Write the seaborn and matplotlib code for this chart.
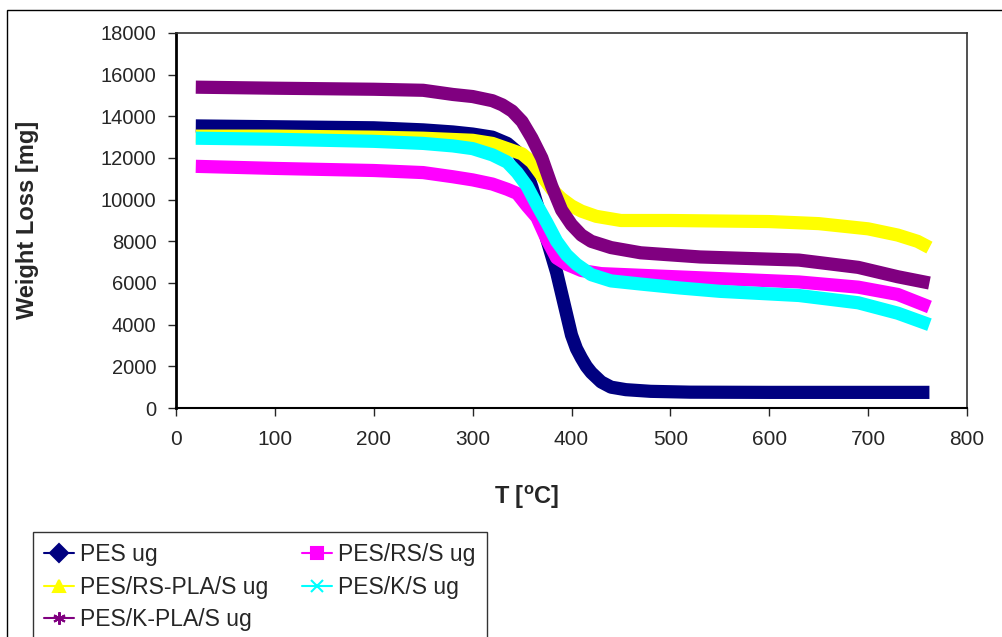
import numpy as np
import pandas as pd
import matplotlib
matplotlib.use('Agg')
import matplotlib.pyplot as plt
from matplotlib.lines import Line2D
from matplotlib.patches import Rectangle
import seaborn as sns

# 数据
t_pes = [20, 100, 200, 250, 280, 300, 320, 335, 345, 352, 360, 365, 370, 375, 380, 385, 390, 395, 400,
         405, 410, 415, 420, 430, 440, 455, 480, 520, 600, 700, 762]
w_pes = [13540, 13500, 13450, 13350, 13250, 13150, 13000, 12700, 12300, 11700, 10600, 9800, 9000, 8100, 7300,
         6500, 5500, 4500, 3500, 2850, 2400, 2000, 1700, 1250, 1000, 880, 800, 760, 750, 750, 750]

t_rs = [20, 100, 200, 250, 280, 300, 320, 335, 345, 355, 365, 375, 385, 395, 410, 430, 480, 530, 630, 690, 730, 762]
w_rs = [11600, 11500, 11400, 11300, 11100, 10950, 10750, 10500, 10300, 9700, 9150, 8100, 7200, 6900, 6600, 6450,
        6350, 6250, 6050, 5800, 5450, 4850]

t_rspla = [20, 100, 200, 250, 300, 320, 335, 350, 360, 370, 380, 390, 400, 410, 425, 450, 500, 600, 650, 700,
           730, 750, 762]
w_rspla = [13050, 13050, 13000, 12950, 12850, 12700, 12450, 12200, 11800, 11150, 10500, 10050, 9700, 9450, 9200,
           9000, 9000, 8950, 8850, 8600, 8300, 8000, 7700]

t_ks = [20, 100, 200, 250, 280, 300, 320, 335, 345, 355, 365, 375, 385, 395, 405, 420, 440, 470, 510, 550, 630,
        690, 730, 762]
w_ks = [12950, 12900, 12800, 12700, 12580, 12450, 12150, 11800, 11300, 10650, 9750, 8900, 8000, 7350, 6900, 6400,
        6100, 5950, 5760, 5600, 5400, 5050, 4550, 4000]

t_kpla = [20, 100, 200, 250, 280, 300, 320, 330, 340, 350, 360, 370, 380, 390, 400, 410, 420, 440, 470, 530, 630,
          690, 730, 762]
w_kpla = [15400, 15350, 15300, 15250, 15050, 14950, 14750, 14550, 14250, 13750, 12950, 12000, 10650, 9500, 8800,
          8300, 8000, 7700, 7450, 7250, 7100, 6750, 6300, 6000]

series_names = ['PES ug', 'PES/RS/S ug', 'PES/RS-PLA/S ug', 'PES/K/S ug', 'PES/K-PLA/S ug']
series_t = [t_pes, t_rs, t_rspla, t_ks, t_kpla]
series_w = [w_pes, w_rs, w_rspla, w_ks, w_kpla]
colors = {'PES ug': '#000080', 'PES/RS/S ug': '#FF00FF', 'PES/RS-PLA/S ug': '#FFFF00',
          'PES/K/S ug': '#00FFFF', 'PES/K-PLA/S ug': '#800080'}
markers = {'PES ug': 'D', 'PES/RS/S ug': 's', 'PES/RS-PLA/S ug': '^',
           'PES/K/S ug': 'x', 'PES/K-PLA/S ug': (6, 2, 0)}

x_ticks = list(range(0, 801, 100))
y_ticks = list(range(0, 18001, 2000))

frames = []
for name, t, w in zip(series_names, series_t, series_w):
    frames.append(pd.DataFrame({'T': t, 'W': w, 'series': name}))
df = pd.concat(frames, ignore_index=True)

sns.set_style('white')
plt.rcParams['font.family'] = ['Liberation Sans', 'DejaVu Sans']
plt.rcParams['mathtext.fontset'] = 'custom'
plt.rcParams['mathtext.rm'] = 'Liberation Sans'
plt.rcParams['mathtext.bf'] = 'Liberation Sans:bold'

fig = plt.figure(figsize=(10.02, 6.37), dpi=100)
ax = fig.add_axes([176 / 1002, 1 - 408 / 637, (967 - 176) / 1002, (408 - 33) / 637])

sns.lineplot(data=df, x='T', y='W', hue='series', hue_order=series_names,
             palette=colors, linewidth=9.5, legend=False, estimator=None,
             solid_capstyle='butt', solid_joinstyle='round', ax=ax)

ax.set_xlim(0, 800)
ax.set_ylim(0, 18000)
ax.set_xticks(x_ticks)
ax.set_yticks(y_ticks)
ax.tick_params(axis='x', direction='out', length=6, width=1, pad=10, labelsize=15, bottom=True)
ax.tick_params(axis='y', direction='out', length=6, width=1, pad=8, labelsize=14.5, left=True)
ax.set_xlabel('')
ax.set_ylabel('')
for side in ['top', 'right']:
    ax.spines[side].set_color('#333333')
    ax.spines[side].set_linewidth(1.2)
ax.spines['left'].set_color('black')
ax.spines['left'].set_linewidth(2)
ax.spines['bottom'].set_color('black')
ax.spines['bottom'].set_linewidth(1.5)

fig.text(28 / 1002, 1 - 220 / 637, 'Weight Loss [mg]', rotation=90, ha='center', va='center',
         fontsize=17, fontweight='bold')
fig.text(527 / 1002, 1 - 497 / 637, r'T [$\mathbf{^{o}}$C]', ha='center', va='center',
         fontsize=17, fontweight='bold')

# 图例 (Excel 风格, 按行排列)
handles = {}
for name in series_names:
    handles[name] = Line2D([0], [0], color=colors[name], lw=1.5, marker=markers[name],
                           markersize=9, markeredgewidth=1.5, markerfacecolor=colors[name],
                           markeredgecolor=colors[name])
order = ['PES ug', 'PES/RS-PLA/S ug', 'PES/K-PLA/S ug', 'PES/RS/S ug', 'PES/K/S ug']
leg = fig.legend([handles[n] for n in order], order, ncol=2, loc='upper left',
                 bbox_to_anchor=(33 / 1002, 1 - 532 / 637), frameon=True, fancybox=False,
                 prop={'size': 16.5},
                 handlelength=1.3, handletextpad=0.27, columnspacing=1.45,
                 labelspacing=0.4, borderpad=0.5, borderaxespad=0)
leg.get_frame().set_edgecolor('black')
leg.get_frame().set_linewidth(1)

# 外框
fig.patches.append(Rectangle((7 / 1002, -0.1), 1.2, 1 - 10 / 637 + 0.1, fill=False,
                             edgecolor='black', linewidth=1, transform=fig.transFigure))

fig.savefig('out.png', dpi=100)
